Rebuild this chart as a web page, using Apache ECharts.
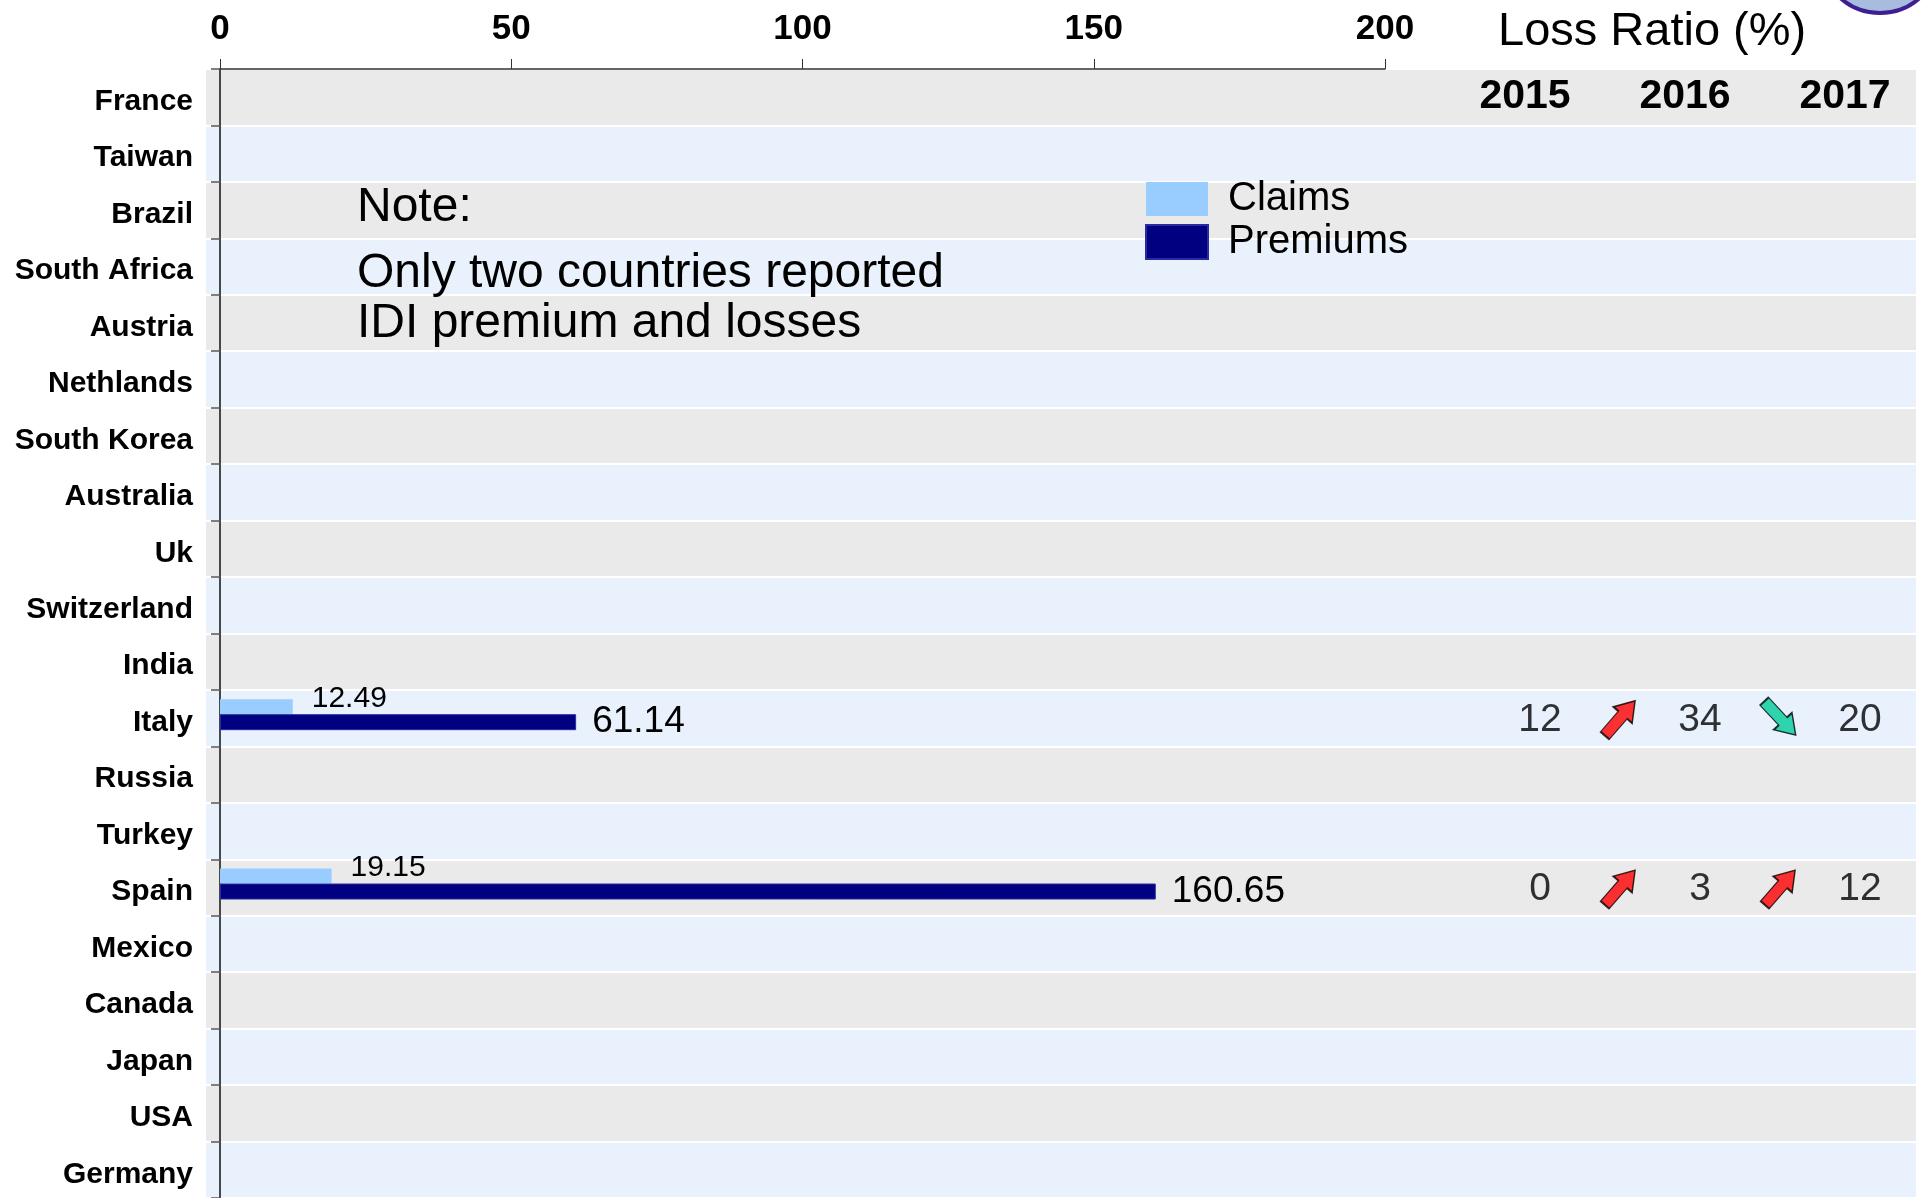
<!DOCTYPE html>
<html lang="en">
<head>
  <meta charset="UTF-8">
  <title>Claims and Premiums</title>
  <style>
    html, body { margin: 0; padding: 0; background: #fff; }
    #main { width: 1922px; height: 1198px; }
  </style>
</head>
<body>
  <div id="main"></div>
  <script src="https://cdn.jsdelivr.net/npm/echarts@6/dist/echarts.min.js"></script>
  <script>
    // 数据
    var countries = ['France', 'Taiwan', 'Brazil', 'South Africa', 'Austria', 'Nethlands', 'South Korea',
      'Australia', 'Uk', 'Switzerland', 'India', 'Italy', 'Russia', 'Turkey', 'Spain', 'Mexico',
      'Canada', 'Japan', 'USA', 'Germany'];
    var claims = [null, null, null, null, null, null, null, null, null, null, null, 12.49, null, null, 19.15,
      null, null, null, null, null];
    var premiums = [null, null, null, null, null, null, null, null, null, null, null, 61.14, null, null, 160.65,
      null, null, null, null, null];
    var xTicks = [0, 50, 100, 150, 200];

    // Loss ratio (%)
    var years = ['2015', '2016', '2017'];
    var lossCountries = ['Italy', 'Spain'];
    var loss2015 = [12, 0];
    var loss2016 = [34, 3];
    var loss2017 = [20, 12];

    var FONT = '"Liberation Sans", Arial, sans-serif';

    // 年份列之间插入箭头列
    var lossCols = [];
    years.forEach(function (y, i) {
      lossCols.push(y);
      if (i < years.length - 1) lossCols.push('');
    });

    var lossTable = [loss2015, loss2016, loss2017];
    var valuePoints = [];
    var arrowPoints = [];
    lossCountries.forEach(function (c, k) {
      for (var j = 0; j < lossTable.length; j++) {
        valuePoints.push([j * 2, c, lossTable[j][k]]);
        if (j < lossTable.length - 1) {
          var up = lossTable[j + 1][k] > lossTable[j][k];
          arrowPoints.push({
            value: [j * 2 + 1, c],
            symbolRotate: up ? -41 : -137,
            itemStyle: { color: up ? '#ff0000' : '#00cc99' }
          });
        }
      }
    });

    var myChart = echarts.init(document.getElementById('main'));

    myChart.setOption({
      animation: false,
      textStyle: { fontFamily: FONT },
      title: {
        text: 'Loss Ratio (%)',
        left: 1498,
        top: 9,
        padding: 0,
        textStyle: { fontFamily: FONT, fontSize: 47, fontWeight: 'normal', color: '#000' }
      },
      legend: {
        data: ['Claims', 'Premiums'],
        orient: 'vertical',
        left: 1145,
        top: 179,
        padding: 0,
        itemWidth: 62,
        itemHeight: 34,
        itemGap: 3,
        icon: 'rect',
        textStyle: { fontFamily: FONT, fontSize: 40, color: '#000', padding: [0, 0, 0, 15] }
      },
      grid: [
        { left: 206, right: 6, top: 69, bottom: 0 },      // 背景条纹
        { left: 220, right: 537, top: 69, bottom: 0 },    // 柱状图
        { left: 1500, right: 22, top: 69, bottom: 0 }     // 赔付率表
      ],
      xAxis: [
        { gridIndex: 0, type: 'value', show: false },
        {
          gridIndex: 1, type: 'value', position: 'top',
          min: xTicks[0], max: xTicks[xTicks.length - 1], interval: xTicks[1] - xTicks[0],
          axisLine: { show: true, lineStyle: { color: '#333', width: 1.5 } },
          axisTick: { show: true, length: 10, lineStyle: { color: '#333' } },
          axisLabel: { fontFamily: FONT, fontSize: 35, fontWeight: 'bold', color: '#000', margin: 22 },
          splitLine: { show: false }
        },
        {
          gridIndex: 2, type: 'category', position: 'top', data: lossCols,
          axisLine: { show: false }, axisTick: { show: false },
          axisLabel: {
            inside: true, interval: 0, margin: 7,
            formatter: function (v) { return v ? '{y|' + v + '}' : ''; },
            rich: { y: { fontFamily: FONT, fontSize: 41, fontWeight: 'bold', color: '#000', padding: [0, 30, 0, 0] } }
          }
        }
      ],
      yAxis: [
        {
          gridIndex: 0, type: 'category', data: countries, inverse: true,
          axisLine: { show: false }, axisTick: { show: false }, axisLabel: { show: false },
          splitArea: { show: true, interval: 0, areaStyle: { color: ['#eaeaea', '#e8f1fc'] } },
          splitLine: { show: true, interval: 0, lineStyle: { color: '#ffffff', width: 2 } }
        },
        {
          gridIndex: 1, type: 'category', data: countries, inverse: true,
          axisLine: { show: true, lineStyle: { color: '#111', width: 1.5 } },
          axisTick: { show: true, length: 9, lineStyle: { color: '#555', width: 1.5 } },
          axisLabel: {
            margin: 27, interval: 0,
            formatter: function (v) { return '{c|' + v + '}'; },
            rich: { c: { fontFamily: FONT, fontSize: 30, fontWeight: 'bold', color: '#000', padding: [9, 0, 0, 0] } }
          }
        },
        {
          gridIndex: 2, type: 'category', data: countries, inverse: true, show: false
        }
      ],
      series: [
        {
          name: 'Claims', type: 'bar', xAxisIndex: 1, yAxisIndex: 1,
          data: claims, barWidth: 15, barGap: '0%',
          itemStyle: { color: '#99ccff' },
          label: {
            show: true, position: 'right', distance: 19, offset: [0, -8],
            fontFamily: FONT, fontSize: 30, color: '#000'
          }
        },
        {
          name: 'Premiums', type: 'bar', xAxisIndex: 1, yAxisIndex: 1,
          data: premiums, barWidth: 16,
          itemStyle: { color: '#000080', borderColor: '#2a2aa0', borderWidth: 1 },
          label: {
            show: true, position: 'right', distance: 16,
            fontFamily: FONT, fontSize: 37, color: '#000'
          }
        },
        {
          // 空系列，只为让两根柱子略微偏上
          type: 'bar', xAxisIndex: 1, yAxisIndex: 1,
          data: [], barWidth: 7, silent: true
        },
        {
          type: 'scatter', xAxisIndex: 2, yAxisIndex: 2,
          data: valuePoints, symbolSize: 1,
          itemStyle: { color: 'rgba(0,0,0,0)' },
          label: {
            show: true, position: 'inside', offset: [0, 2],
            formatter: function (p) { return p.value[2]; },
            fontFamily: FONT, fontSize: 39, color: '#000'
          }
        },
        {
          type: 'scatter', xAxisIndex: 2, yAxisIndex: 2,
          data: arrowPoints,
          symbol: 'path://M7,44 L7,18 L0,18 L13,0 L26,18 L19,18 L19,44 Z',
          symbolSize: [25, 46],
          itemStyle: { borderColor: '#000', borderWidth: 1.5 }
        }
      ],
      graphic: [
        {
          type: 'text', left: 357, top: 184, z: 100,
          style: { text: 'Note:', font: '48px ' + FONT, fill: '#000' }
        },
        {
          type: 'text', left: 357, top: 249, z: 100,
          style: {
            text: 'Only two countries reported\nIDI premium and losses',
            font: '48px ' + FONT, lineHeight: 50, fill: '#000'
          }
        },
        {
          type: 'circle', shape: { cx: 1880, cy: -47, r: 60 }, z: 100,
          style: { fill: '#a8bce0', stroke: '#3f1f8f', lineWidth: 4 }
        }
      ]
    });
  </script>
</body>
</html>
